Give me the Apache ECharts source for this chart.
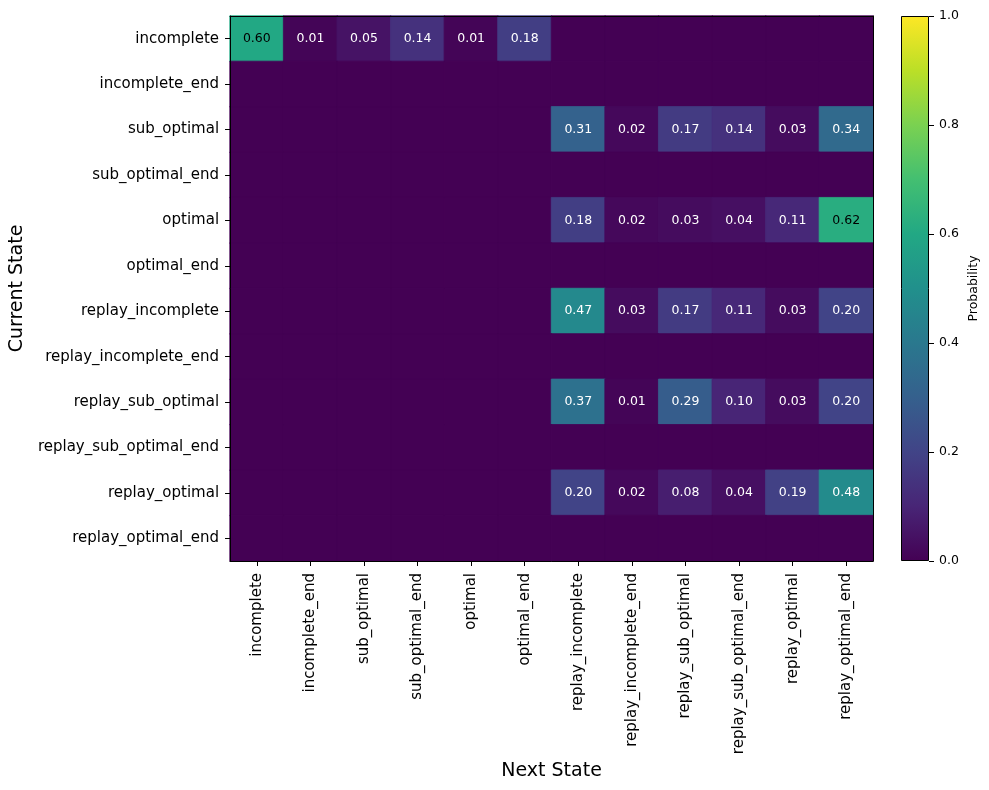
<!DOCTYPE html>
<html>
<head>
<meta charset="utf-8">
<script src="https://cdn.jsdelivr.net/npm/echarts@6/dist/echarts.min.js"></script>
<style>html,body{margin:0;padding:0;background:#fff;}#chart{width:989px;height:790px;}</style>
</head>
<body>
<div id="chart"></div>
<script>
const states = ['incomplete','incomplete_end','sub_optimal','sub_optimal_end','optimal','optimal_end',
  'replay_incomplete','replay_incomplete_end','replay_sub_optimal','replay_sub_optimal_end','replay_optimal','replay_optimal_end'];

const rowIncomplete          = [0.60,0.01,0.05,0.14,0.01,0.18,0,0,0,0,0,0];
const rowIncompleteEnd       = [0,0,0,0,0,0,0,0,0,0,0,0];
const rowSubOptimal          = [0,0,0,0,0,0,0.31,0.02,0.17,0.14,0.03,0.34];
const rowSubOptimalEnd       = [0,0,0,0,0,0,0,0,0,0,0,0];
const rowOptimal             = [0,0,0,0,0,0,0.18,0.02,0.03,0.04,0.11,0.62];
const rowOptimalEnd          = [0,0,0,0,0,0,0,0,0,0,0,0];
const rowReplayIncomplete    = [0,0,0,0,0,0,0.47,0.03,0.17,0.11,0.03,0.20];
const rowReplayIncompleteEnd = [0,0,0,0,0,0,0,0,0,0,0,0];
const rowReplaySubOptimal    = [0,0,0,0,0,0,0.37,0.01,0.29,0.10,0.03,0.20];
const rowReplaySubOptimalEnd = [0,0,0,0,0,0,0,0,0,0,0,0];
const rowReplayOptimal       = [0,0,0,0,0,0,0.20,0.02,0.08,0.04,0.19,0.48];
const rowReplayOptimalEnd    = [0,0,0,0,0,0,0,0,0,0,0,0];

const rows = [rowIncomplete,rowIncompleteEnd,rowSubOptimal,rowSubOptimalEnd,rowOptimal,rowOptimalEnd,
  rowReplayIncomplete,rowReplayIncompleteEnd,rowReplaySubOptimal,rowReplaySubOptimalEnd,rowReplayOptimal,rowReplayOptimalEnd];

const colorbarTicks = [0,0.2,0.4,0.6,0.8,1.0];

const viridis = ['#440154','#482576','#414487','#35608d','#2a788e','#21908c','#22a884','#43bf71','#7ad151','#bbdf27','#fde725'];

const FONT = 'DejaVu Sans';
const data = [];
rows.forEach((r, yi) => r.forEach((v, xi) => {
  const c = echarts.color.lerp(v, viridis);
  data.push({
    value: [xi, yi, v],
    itemStyle: { color: c, borderColor: c, borderWidth: 0.8 },
    label: { show: v > 0, color: v >= 0.5 ? '#000' : '#fff' }
  });
}));

const chart = echarts.init(document.getElementById('chart'), null, {renderer: 'canvas'});
chart.setOption({
  animation: false,
  backgroundColor: '#fff',
  grid: [
    {left: 229, top: 16, width: 644, height: 545},
    {left: 901, top: 16, width: 28, height: 545}
  ],
  xAxis: [
    {type: 'category', data: states, gridIndex: 0, position: 'bottom', z: 10,
     axisLine: {show: true, lineStyle: {color: '#000', width: 1}},
     axisTick: {show: true, alignWithLabel: true, length: 5, lineStyle: {color: '#000'}},
     axisLabel: {rotate: 90, fontSize: 15, fontFamily: FONT, color: '#000', margin: 12, interval: 0},
     splitLine: {show: false},
     name: 'Next State', nameLocation: 'middle', nameGap: 199,
     nameTextStyle: {fontSize: 19, fontFamily: FONT, color: '#000'}},
    {type: 'category', data: states, gridIndex: 0, position: 'top', z: 10,
     axisLine: {show: true, lineStyle: {color: '#000', width: 1}},
     axisTick: {show: false}, axisLabel: {show: false}, splitLine: {show: false}},
    {type: 'category', data: ['cb'], gridIndex: 1, show: false}
  ],
  yAxis: [
    {type: 'category', data: states, gridIndex: 0, inverse: true, position: 'left', z: 10,
     axisLine: {show: true, lineStyle: {color: '#000', width: 1}},
     axisTick: {show: true, alignWithLabel: true, length: 5, lineStyle: {color: '#000'}},
     axisLabel: {fontSize: 15, fontFamily: FONT, color: '#000', margin: 11, interval: 0},
     splitLine: {show: false},
     name: 'Current State', nameLocation: 'middle', nameGap: 201, nameRotate: 90,
     nameTextStyle: {fontSize: 19, fontFamily: FONT, color: '#000'}},
    {type: 'category', data: states, gridIndex: 0, inverse: true, position: 'right', z: 10,
     axisLine: {show: true, lineStyle: {color: '#000', width: 1}},
     axisTick: {show: false}, axisLabel: {show: false}, splitLine: {show: false}},
    {type: 'value', gridIndex: 1, position: 'right', min: 0, max: 1, interval: 0.2, z: 10,
     axisLine: {show: false},
     axisTick: {show: true, length: 5, lineStyle: {color: '#000'}},
     axisLabel: {fontSize: 12.5, fontFamily: FONT, color: '#000', margin: 10,
       formatter: v => colorbarTicks.some(t => Math.abs(t - v) < 1e-9) ? v.toFixed(1) : ''},
     splitLine: {show: false},
     name: 'Probability', nameLocation: 'middle', nameGap: 38, nameRotate: 90,
     nameTextStyle: {fontSize: 12.5, fontFamily: FONT, color: '#000'}}
  ],
  series: [
    {type: 'heatmap', xAxisIndex: 0, yAxisIndex: 0, data: data,
     label: {show: true, fontSize: 12.5, fontFamily: FONT,
       formatter: p => p.value[2] > 0 ? p.value[2].toFixed(2) : ''},
     emphasis: {disabled: true}},
    {type: 'bar', xAxisIndex: 2, yAxisIndex: 2, data: [colorbarTicks[colorbarTicks.length - 1]],
     barWidth: '100%', silent: true,
     itemStyle: {
       borderColor: '#000', borderWidth: 1,
       color: {type: 'linear', x: 0, y: 1, x2: 0, y2: 0,
         colorStops: viridis.map((c, i) => ({offset: i / (viridis.length - 1), color: c}))}
     }}
  ]
});
</script>
</body>
</html>
